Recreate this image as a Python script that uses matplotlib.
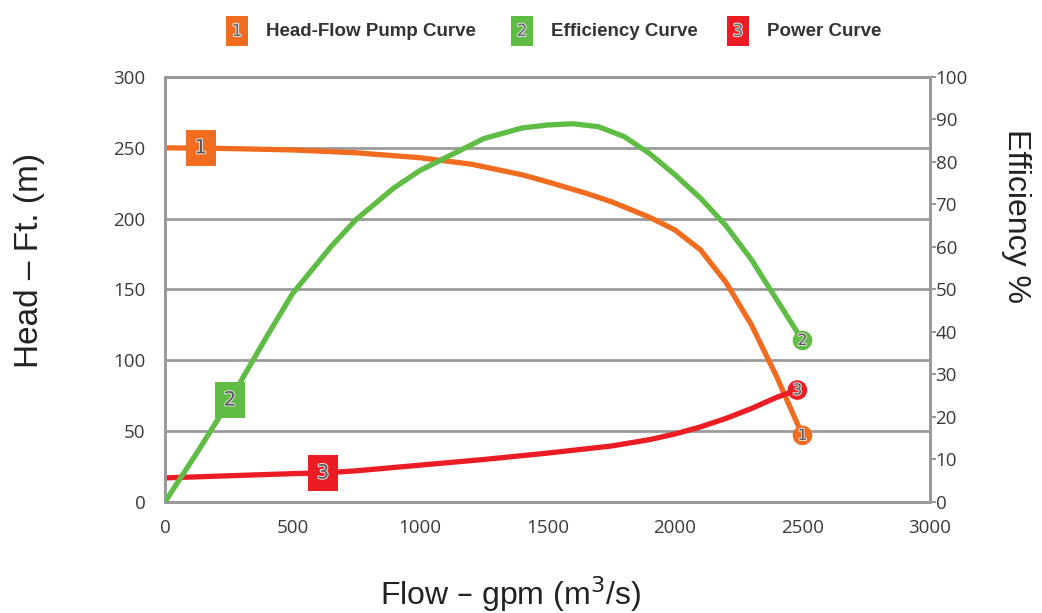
import matplotlib
matplotlib.use("Agg")
import matplotlib.pyplot as plt
import matplotlib.patheffects as pe

# values
head_flow = [0, 250, 500, 750, 1000, 1200, 1400, 1500, 1650, 1750, 1900, 2000, 2100, 2200, 2300, 2400, 2500]
head_ft = [250, 249.5, 248.5, 246.5, 243, 238.5, 231, 226, 218, 212, 201, 192, 178, 155, 125, 88, 47]

eff_flow = [0, 130, 255, 400, 500, 650, 750, 900, 1000, 1150, 1250, 1400, 1500, 1600, 1700, 1800, 1900, 2000, 2100, 2200, 2300, 2400, 2500]
eff_pct = [0, 12, 24, 39, 49, 60, 66.5, 74, 78, 82.5, 85.5, 88, 88.7, 89, 88.3, 86, 82, 77, 71.5, 65, 57, 47.5, 38]

pow_flow = [0, 250, 500, 620, 750, 1000, 1250, 1500, 1750, 1900, 2000, 2100, 2200, 2300, 2400, 2480]
pow_val = [17, 18.5, 20, 20.5, 22, 26, 30, 34.5, 39.5, 44, 48, 53, 59, 66, 74, 79]

legend_labels = ["Head-Flow Pump Curve", "Efficiency Curve", "Power Curve"]
xticks = [0, 500, 1000, 1500, 2000, 2500, 3000]
yticks = [0, 50, 100, 150, 200, 250, 300]
eff_ticks = [0, 10, 20, 30, 40, 50, 60, 70, 80, 90, 100]

orange = "#f26c1f"
green = "#5fbd45"
red = "#ec1c24"
grey = "#9a9a9a"
tickcol = "#3a3a3a"
outline = [pe.withStroke(linewidth=1.5, foreground="#dddddd")]

fig = plt.figure(figsize=(10.42, 6.13), dpi=100)
ax = fig.add_axes([0.1583, 0.1811, 0.7342, 0.6933])
ax2 = ax.twinx()

ax.set_xlim(0, 3000)
ax.set_ylim(0, 300)
ax2.set_ylim(0, 100)

ax.set_xticks(xticks)
ax.set_yticks(yticks)
ax2.set_yticks(eff_ticks)
for a in (ax, ax2):
    for s in a.spines.values():
        s.set_color(grey)
        s.set_linewidth(2)
ax.tick_params(axis="both", length=0, labelsize=13.5, labelcolor=tickcol, pad=12)
ax.tick_params(axis="y", pad=14)
ax2.tick_params(axis="y", direction="out", length=4, width=1.5, color=grey,
                labelsize=13.5, labelcolor=tickcol, pad=0)
for lab in ax.get_xticklabels() + ax.get_yticklabels() + ax2.get_yticklabels():
    lab.set_family("Open Sans")
ax.grid(axis="y", color=grey, linewidth=2)
ax.set_axisbelow(True)

ax.plot(head_flow, head_ft, color=orange, lw=3.8, solid_capstyle="round", zorder=3)
ax.plot(pow_flow, pow_val, color=red, lw=3.8, solid_capstyle="round", zorder=3)
ax2.plot(eff_flow, eff_pct, color=green, lw=3.8, solid_capstyle="round", zorder=3)


def tag(a, x, y, num, col, shape):
    if shape == "square":
        box = dict(boxstyle="square,pad=0.45", fc=col, ec="none")
        fs = 14
    else:
        box = dict(boxstyle="circle,pad=0.15", fc=col, ec="none")
        fs = 11
    t = a.text(x, y, num, ha="center", va="center", fontsize=fs, color="#555555",
               family="DejaVu Sans", zorder=6, bbox=box)
    t.set_path_effects(outline)


tag(ax, 140, head_ft[0], "1", orange, "square")
tag(ax2, 255, 24, "2", green, "square")
tag(ax, 620, 20.5, "3", red, "square")
tag(ax, head_flow[-1], head_ft[-1], "1", orange, "circle")
tag(ax2, eff_flow[-1], eff_pct[-1], "2", green, "circle")
tag(ax, pow_flow[-1], pow_val[-1], "3", red, "circle")

fig.text(510 / 1042, 1 - 594 / 613, "Flow – gpm (m$^3$/s)", ha="center", va="center",
         fontsize=23, family="Liberation Sans", color="#222222")
fig.text(30 / 1042, 1 - 260 / 613, "Head – Ft. (m)", ha="center", va="center", rotation=90,
         fontsize=24, family="Liberation Sans", color="#222222")
fig.text(1016 / 1042, 1 - 216 / 613, "Efficiency %", ha="center", va="center", rotation=-90,
         fontsize=23, family="Liberation Sans", color="#222222")

# legend row at the top
legend_cols = [orange, green, red]
sq_x = [237, 522, 738]
for i in range(3):
    t = fig.text(sq_x[i] / 1042, 1 - 31 / 613, str(i + 1), ha="center", va="center", fontsize=12,
                 color="#666666", bbox=dict(boxstyle="square,pad=0.35", fc=legend_cols[i], ec="none"))
    t.set_path_effects(outline)
    fig.text((sq_x[i] + 29) / 1042, 1 - 31 / 613, legend_labels[i], ha="left", va="center",
             fontsize=13.5, fontweight="bold", color="#333333", family="Liberation Sans")

fig.savefig("out.png", dpi=100)
